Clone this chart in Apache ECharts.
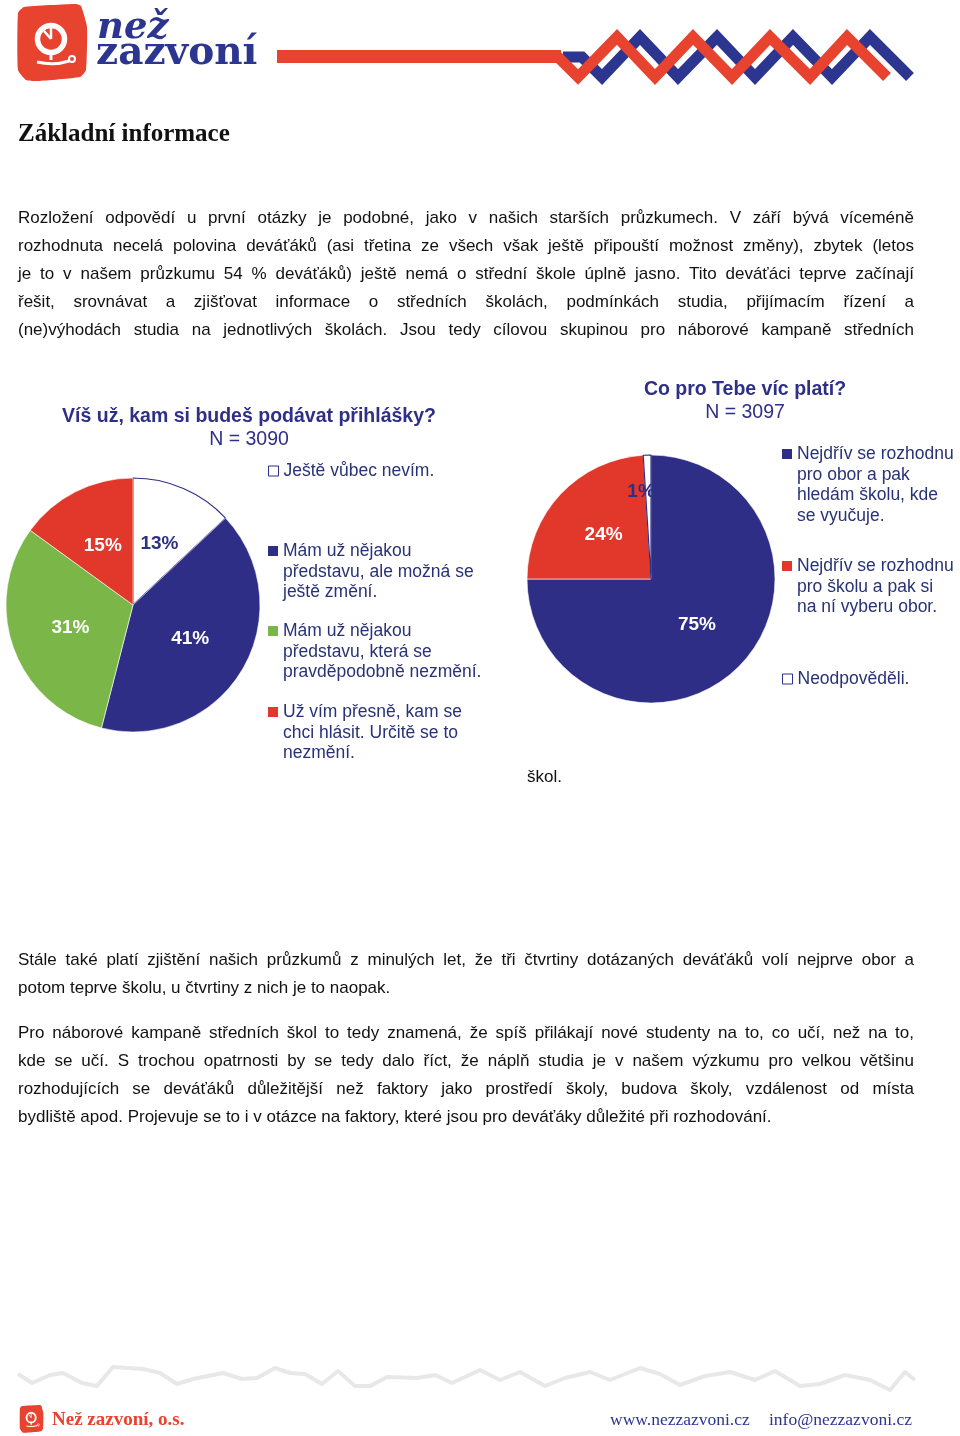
<!DOCTYPE html>
<html>
<head>
<meta charset="utf-8">
<script src="https://cdn.jsdelivr.net/npm/echarts@6/dist/echarts.min.js"></script>
<style>
html,body{margin:0;padding:0;background:#fff;}
#page{position:relative;width:960px;height:1436px;overflow:hidden;background:#fff;}
#chart{position:absolute;left:0;top:0;width:960px;height:1436px;}
.ln{position:absolute;left:18px;width:896px;font-family:"Liberation Sans",Arial,sans-serif;font-size:17px;line-height:28px;color:#111;white-space:nowrap;text-align:justify;text-align-last:justify;}
.ln.last{text-align:left;text-align-last:left;width:auto;}
.h1{position:absolute;left:18px;top:119px;margin:0;font-family:"Liberation Serif","Times New Roman",serif;font-weight:bold;font-size:25px;line-height:28px;color:#111;}
</style>
</head>
<body>
<div id="page">
  <div id="chart"></div>
  <div class="h1">Základní informace</div>
  <div class="ln" style="top:204px">Rozložení odpovědí u první otázky je podobné, jako v našich starších průzkumech. V září bývá víceméně</div>
  <div class="ln" style="top:232px">rozhodnuta necelá polovina deváťáků (asi třetina ze všech však ještě připouští možnost změny), zbytek (letos</div>
  <div class="ln" style="top:260px">je to v našem průzkumu 54 % deváťáků) ještě nemá o střední škole úplně jasno. Tito deváťáci teprve začínají</div>
  <div class="ln" style="top:288px">řešit, srovnávat a zjišťovat informace o středních školách, podmínkách studia, přijímacím řízení a</div>
  <div class="ln" style="top:316px">(ne)výhodách studia na jednotlivých školách. Jsou tedy cílovou skupinou pro náborové kampaně středních</div>
  <div class="ln last" style="top:763px;left:527px">škol.</div>
  <div class="ln" style="top:946px">Stále také platí zjištění našich průzkumů z minulých let, že tři čtvrtiny dotázaných deváťáků volí nejprve obor a</div>
  <div class="ln last" style="top:974px">potom teprve školu, u čtvrtiny z nich je to naopak.</div>
  <div class="ln" style="top:1019px">Pro náborové kampaně středních škol to tedy znamená, že spíš přilákají nové studenty na to, co učí, než na to,</div>
  <div class="ln" style="top:1047px">kde se učí. S trochou opatrnosti by se tedy dalo říct, že náplň studia je v našem výzkumu pro velkou většinu</div>
  <div class="ln" style="top:1075px">rozhodujících se deváťáků důležitější než faktory jako prostředí školy, budova školy, vzdálenost od místa</div>
  <div class="ln last" style="top:1103px">bydliště apod. Projevuje se to i v otázce na faktory, které jsou pro deváťáky důležité při rozhodování.</div>
</div>
<script>
// ---- data ----
const leftTitle = 'Víš už, kam si budeš podávat přihlášky?';
const leftN = 'N = 3090';
const leftCategories = [
  'Ještě vůbec nevím.',
  'Mám už nějakou\npředstavu, ale možná se\nještě změní.',
  'Mám už nějakou\npředstavu, která se\npravděpodobně nezmění.',
  'Už vím přesně, kam se\nchci hlásit. Určitě se to\nnezmění.'
];
const leftValues = [13, 41, 31, 15];

const rightTitle = 'Co pro Tebe víc platí?';
const rightN = 'N = 3097';
const rightCategories = [
  'Nejdřív se rozhodnu\npro obor a pak\nhledám školu, kde\nse vyučuje.',
  'Nejdřív se rozhodnu\npro školu a pak si\nna ní vyberu obor.',
  'Neodpověděli.'
];
const rightValues = [75, 24, 1];

// ---- styles ----
const NAVY = '#2e2f86';
const TXT_NAVY = '#283276';
const WHITE = '#ffffff';
const BLUE = '#2e2e86';
const GREEN = '#7ab648';
const RED = '#e2372b';
const LOGO_RED = '#e8432f';
const LOGO_BLUE = '#2c3590';
const FONT = '"Liberation Sans", Arial, sans-serif';
const LH = 20.7;

const leftColors = [WHITE, BLUE, GREEN, RED];
const rightColors = [BLUE, RED, WHITE];

function pieData(cats, vals, colors, labelExtra) {
  return cats.map((name, i) => {
    const isWhite = colors[i] === WHITE;
    const d = {
      name: name,
      value: vals[i],
      itemStyle: {
        color: colors[i],
        borderColor: isWhite ? NAVY : '#ffffff',
        borderWidth: isWhite ? 1.2 : 0.6
      },
      label: { color: isWhite ? NAVY : '#ffffff' }
    };
    if (labelExtra && labelExtra[i]) Object.assign(d.label, labelExtra[i]);
    return d;
  });
}

function makeLegends(cats, colors, left, centers) {
  return cats.map((name, i) => {
    const n = name.split('\n').length;
    const isWhite = colors[i] === WHITE;
    return {
      left: left,
      top: centers[i] - (2 * n - 1) * LH / 2,
      orient: 'vertical',
      padding: 0,
      itemWidth: 10,
      itemHeight: 10,
      itemGap: 0,
      selectedMode: false,
      icon: 'rect',
      // leading empty lines keep the marker level with the first text line
      formatter: (nm) => '\n'.repeat(n - 1) + nm,
      data: [{
        name: name,
        itemStyle: { color: colors[i], borderColor: isWhite ? NAVY : colors[i], borderWidth: isWhite ? 1 : 0 }
      }],
      textStyle: {
        fontFamily: FONT, fontSize: 17.5, color: TXT_NAVY, lineHeight: LH
      }
    };
  });
}

// logo shapes (header logo, reused scaled in footer)
function logoChildren() {
  return [
    { type: 'polygon', shape: { points: [[24, 7], [76, 4], [81, 6], [87, 27], [86, 70], [80, 77], [38, 81], [26, 80], [18, 70], [18, 13]], smooth: 0.15 }, style: { fill: LOGO_RED } },
    { type: 'circle', shape: { cx: 51, cy: 39, r: 13.5 }, style: { fill: 'none', stroke: '#fff', lineWidth: 5.5 } },
    { type: 'line', shape: { x1: 51, y1: 39, x2: 51, y2: 27 }, style: { stroke: '#fff', lineWidth: 2.5 } },
    { type: 'line', shape: { x1: 51, y1: 39, x2: 44, y2: 31 }, style: { stroke: '#fff', lineWidth: 2.5 } },
    { type: 'line', shape: { x1: 51, y1: 53, x2: 51, y2: 60 }, style: { stroke: '#fff', lineWidth: 3 } },
    { type: 'bezierCurve', shape: { x1: 37, y1: 62, x2: 69, y2: 61, cpx1: 54, cpy1: 66 }, style: { fill: 'none', stroke: '#fff', lineWidth: 3 } },
    { type: 'circle', shape: { cx: 72, cy: 59, r: 3 }, style: { fill: 'none', stroke: '#fff', lineWidth: 2 } }
  ];
}

const chart = echarts.init(document.getElementById('chart'), null, { renderer: 'canvas' });

const option = {
  animation: false,
  backgroundColor: 'transparent',
  title: [
    {
      text: leftTitle, subtext: leftN, left: 249, top: 406, textAlign: 'center', padding: 0, itemGap: 2,
      textStyle: { fontFamily: FONT, fontSize: 19.5, fontWeight: 'bold', color: NAVY, lineHeight: 21 },
      subtextStyle: { fontFamily: FONT, fontSize: 19.5, color: NAVY, lineHeight: 21 }
    },
    {
      text: rightTitle, subtext: rightN, left: 745, top: 379, textAlign: 'center', padding: 0, itemGap: 2,
      textStyle: { fontFamily: FONT, fontSize: 19.5, fontWeight: 'bold', color: NAVY, lineHeight: 21 },
      subtextStyle: { fontFamily: FONT, fontSize: 19.5, color: NAVY, lineHeight: 21 }
    }
  ],
  legend: [].concat(
    makeLegends(leftCategories, leftColors, 268, [471, 551, 631, 712]),
    makeLegends(rightCategories, rightColors, 782, [454, 566, 679])
  ),
  series: [
    {
      type: 'pie', center: [133, 605], radius: 127, startAngle: 90, clockwise: true,
      silent: true, emphasis: { disabled: true }, labelLine: { show: false },
      label: { show: true, position: 'inside', formatter: '{c}%', fontFamily: FONT, fontSize: 19, fontWeight: 'bold' },
      data: pieData(leftCategories, leftValues, leftColors)
    },
    {
      type: 'pie', center: [651, 579], radius: 124, startAngle: 90, clockwise: true,
      silent: true, emphasis: { disabled: true }, labelLine: { show: false },
      label: { show: true, position: 'inside', formatter: '{c}%', fontFamily: FONT, fontSize: 19, fontWeight: 'bold' },
      // trailing spaces / empty lines nudge the small "1%" label up and to the left
      data: pieData(rightCategories, rightValues, rightColors, [null, null, { formatter: '{c}%   \n\n', lineHeight: 22 }])
    }
  ],
  graphic: [
    // header logo
    { type: 'group', x: 0, y: 0, children: logoChildren() },
    { type: 'text', x: 97, y: 28, style: { text: 'než', fontFamily: '"DejaVu Serif", serif', fontStyle: 'italic', fontWeight: 'bold', fontSize: 37, fill: LOGO_BLUE, verticalAlign: 'middle' } },
    { type: 'text', x: 96, y: 54, style: { text: 'zazvoní', fontFamily: '"DejaVu Serif", serif', fontWeight: 'bold', fontSize: 39, fill: LOGO_BLUE, verticalAlign: 'middle' } },
    // red bar
    { type: 'rect', shape: { x: 277, y: 50, width: 284, height: 13 }, style: { fill: LOGO_RED }, z: 3 },
    // zigzags
    { type: 'polyline', z: 2, shape: { points: [[563, 57], [582, 57], [602, 77], [640, 37], [678, 77], [717, 37], [755, 77], [793, 37], [832, 77], [870, 37], [910, 77]] },
      style: { stroke: LOGO_BLUE, lineWidth: 11, lineJoin: 'miter', fill: 'none' } },
    { type: 'polyline', z: 3, shape: { points: [[556, 57], [558, 57], [578, 77], [617, 37], [655, 77], [693, 37], [732, 77], [770, 37], [810, 77], [847, 37], [887, 77]] },
      style: { stroke: LOGO_RED, lineWidth: 11, lineJoin: 'miter', fill: 'none' } },
    // footer wave
    { type: 'polyline', shape: { points: [[18, 1374], [32, 1383], [50, 1375], [63, 1373], [82, 1383], [97, 1386], [113, 1367], [143, 1369], [160, 1373], [177, 1384], [193, 1379], [223, 1373], [242, 1379], [257, 1378], [275, 1368], [290, 1373], [305, 1374], [322, 1384], [338, 1371], [355, 1386], [370, 1386], [387, 1377], [417, 1378], [435, 1375], [452, 1383], [480, 1370], [500, 1380], [520, 1372], [545, 1386], [565, 1378], [590, 1372], [610, 1380], [640, 1368], [660, 1374], [680, 1385], [705, 1376], [730, 1372], [755, 1380], [775, 1371], [800, 1386], [820, 1384], [845, 1375], [870, 1380], [890, 1390], [905, 1372], [915, 1380]] },
      style: { stroke: '#e8e8e8', lineWidth: 4, fill: 'none', lineJoin: 'round' } },
    // footer logo + texts
    { type: 'group', x: 13.8, y: 1403.6, scaleX: 0.34, scaleY: 0.36, children: logoChildren() },
    { type: 'text', x: 52, y: 1420, style: { text: 'Než zazvoní, o.s.', fontFamily: '"Liberation Serif", serif', fontWeight: 'bold', fontSize: 19, fill: LOGO_RED, verticalAlign: 'middle' } },
    { type: 'text', x: 610, y: 1420, style: { text: 'www.nezzazvoni.cz', fontFamily: '"Liberation Serif", serif', fontSize: 17.5, fill: LOGO_BLUE, verticalAlign: 'middle' } },
    { type: 'text', x: 769, y: 1420, style: { text: 'info@nezzazvoni.cz', fontFamily: '"Liberation Serif", serif', fontSize: 17.5, fill: LOGO_BLUE, verticalAlign: 'middle' } }
  ]
};
chart.setOption(option);
</script>
</body>
</html>
